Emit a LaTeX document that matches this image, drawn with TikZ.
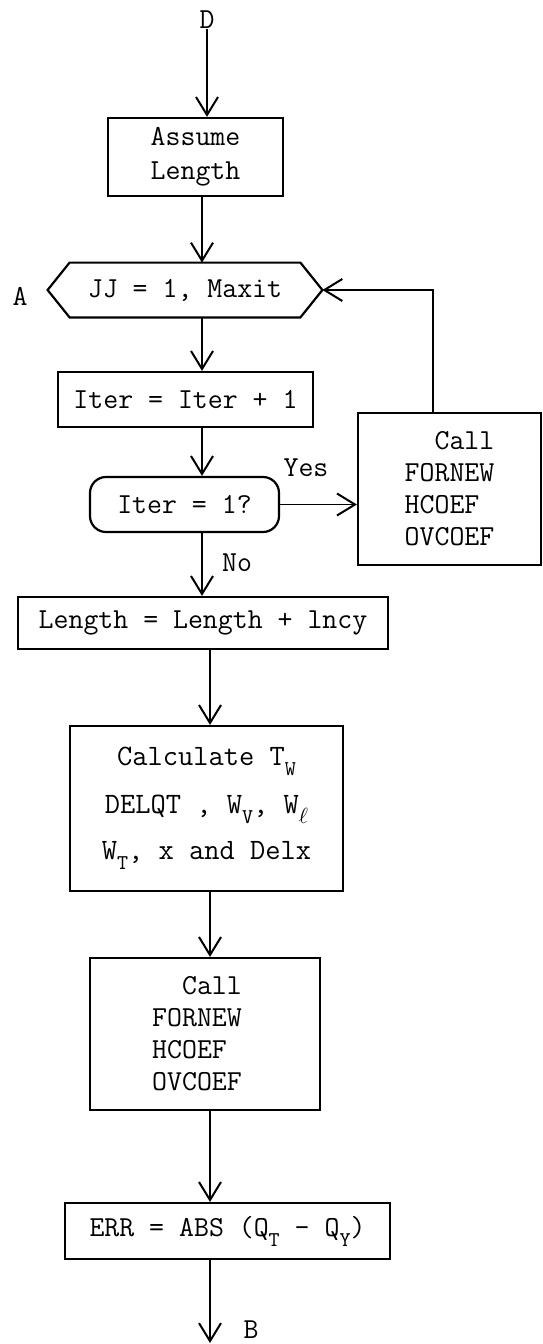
\documentclass[tikz,border=0pt]{standalone}
\usepackage{fontspec}
\usetikzlibrary{arrows.meta}
\newcommand{\lowsub}[1]{\raisebox{-0.8ex}{\fontsize{10.5}{10.5}\selectfont #1}}
\begin{document}
\begin{tikzpicture}[x=0.5pt,y=-0.5pt,
  every node/.style={font=\ttfamily\fontsize{14.5}{16}\selectfont},
  box/.style={draw, line width=1.1pt, inner sep=0pt, align=center},
  arr/.style={-{Straight Barb[length=9pt,width=11pt,line width=1pt]}, line width=0.7pt},
  lbl/.style={inner sep=0pt}]
\useasboundingbox (0,0) rectangle (542,1344);
\coordinate (colA) at (202,0);
\coordinate (colB) at (210,0);
\coordinate (loopx) at (433,0);
\coordinate (Bend) at (210,1343);

\node[lbl] (D) at (207,20) {D};
\node[box, minimum width=87.5pt, minimum height=39pt, font=\ttfamily\fontsize{14.5}{17}\selectfont] (assume) at (195.5,157) {Assume\\Length};
\node[inner sep=0pt, minimum width=115pt, minimum height=27pt] (jj) at (185,290) {JJ = 1, Maxit};
\coordinate (jjL) at ([xshift=-11pt]jj.west);
\coordinate (jjR) at ([xshift=11pt]jj.east);
\draw[line width=1.1pt] (jj.north west) -- (jj.north east) -- (jjR) -- (jj.south east) -- (jj.south west) -- (jjL) -- cycle;
\node[lbl] (A) at (20,296) {A};
\node[box, minimum width=127.5pt, minimum height=27.5pt] (iter) at (185.5,399.5) {Iter = Iter + 1};
\node[box, rounded corners=8pt, minimum width=94.5pt, minimum height=27.5pt] (dec) at (184.5,504.5) {Iter = 1?};
\node[box, align=left, minimum width=91.5pt, minimum height=76pt] (call1) at (449.5,489) {\phantom{FO}Call\\FORNEW\\HCOEF\\OVCOEF};
\node[lbl] (yes) at (306,468) {Yes};
\node[lbl] (no) at (237,563) {No};
\node[box, minimum width=185pt, minimum height=26pt] (len) at (203,623) {Length = Length + lncy};
\node[box, minimum width=136.5pt, minimum height=82.5pt, font=\ttfamily\fontsize{14.8}{16}\selectfont] (calc) at (206.5,808.5) {Calculate T\lowsub{W}\\[8pt]DELQT , W\lowsub{V}, W\lowsub{$\ell$}\\[7pt]W\lowsub{T}, x and Delx};
\node[box, align=left, minimum width=115pt, minimum height=76pt] (call2) at (205,1034) {\phantom{FO}Call\\FORNEW\\HCOEF\\OVCOEF\hspace*{8pt}};
\node[box, minimum width=162.5pt, minimum height=28pt] (err) at (227.5,1231) {ERR = ABS (Q\lowsub{T} - Q\lowsub{Y})};
\node[lbl] (B) at (251,1330) {B};

\draw[arr] (D.south) -- (assume.north -| D.south);
\draw[arr] (assume.south -| colA) -- (jj.north -| colA);
\draw[arr] (jj.south -| colA) -- (iter.north -| colA);
\draw[arr] (iter.south -| colA) -- (dec.north -| colA);
\draw[arr] (dec.south -| colA) -- (len.north -| colA);
\draw[arr] (dec.east) -- (call1.west |- dec.east);
\draw[arr] (call1.north -| loopx) |- (jjR);
\draw[arr] (len.south -| colB) -- (calc.north -| colB);
\draw[arr] (calc.south -| colB) -- (call2.north -| colB);
\draw[arr] (call2.south -| colB) -- (err.north -| colB);
\draw[arr] (err.south -| colB) -- (Bend);
\end{tikzpicture}
\end{document}
